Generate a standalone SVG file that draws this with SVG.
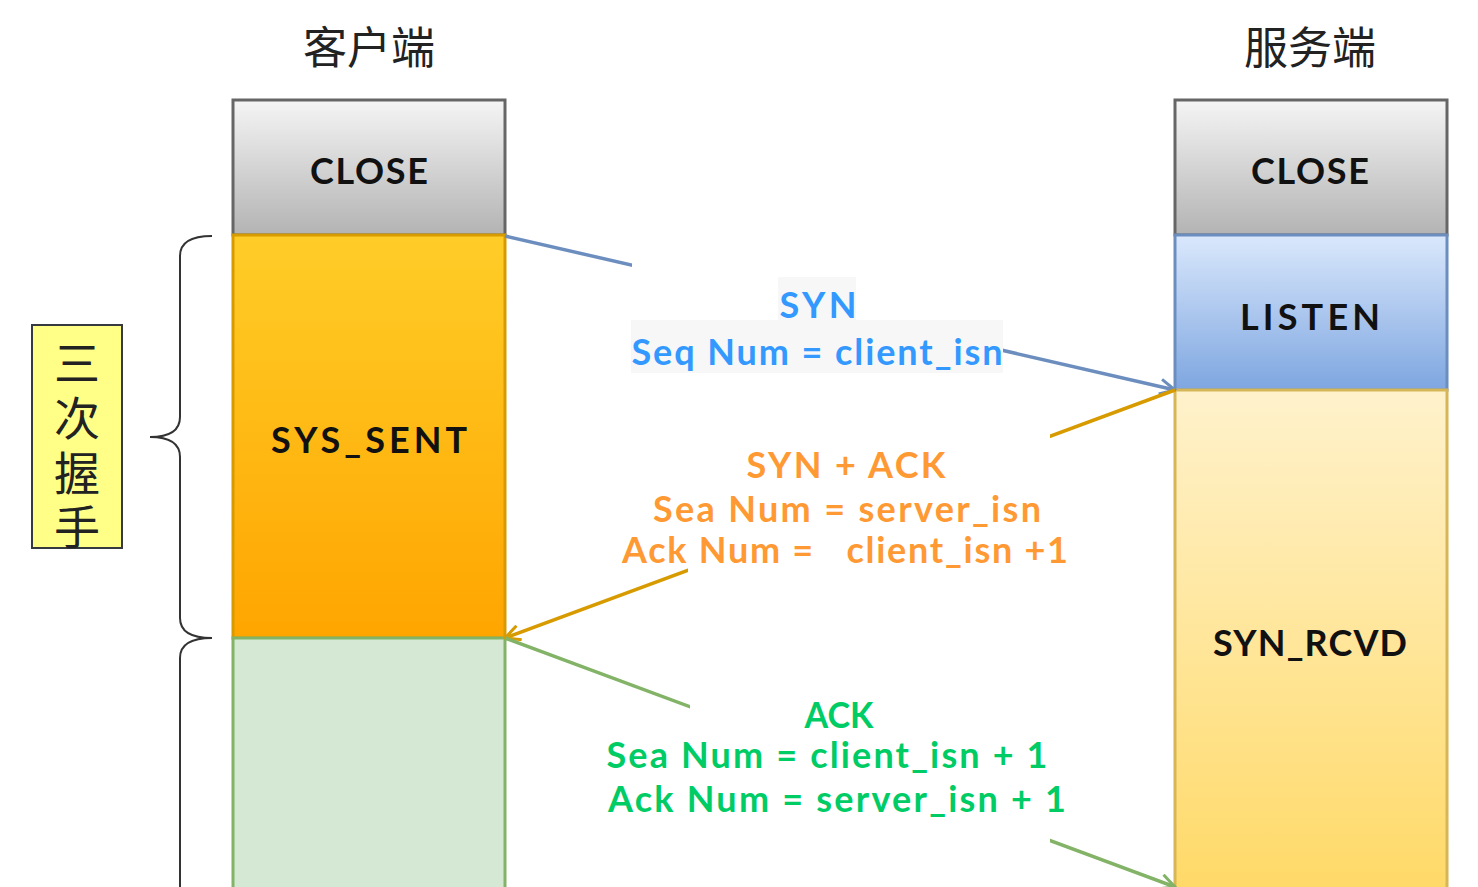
<svg xmlns="http://www.w3.org/2000/svg" width="1478" height="887" viewBox="0 0 1478 887">
<defs>
<linearGradient id="gGray" x1="0" y1="0" x2="0" y2="1"><stop offset="0" stop-color="#f5f5f5"/><stop offset="1" stop-color="#b3b3b3"/></linearGradient>
<linearGradient id="gOrange" x1="0" y1="0" x2="0" y2="1"><stop offset="0" stop-color="#ffcd28"/><stop offset="1" stop-color="#ffa500"/></linearGradient>
<linearGradient id="gBlue" x1="0" y1="0" x2="0" y2="1"><stop offset="0" stop-color="#dae8fc"/><stop offset="1" stop-color="#7ea6e0"/></linearGradient>
<linearGradient id="gYellow" x1="0" y1="0" x2="0" y2="1"><stop offset="0" stop-color="#fff2cc"/><stop offset="1" stop-color="#ffd966"/></linearGradient>
<marker id="aBlue" viewBox="0 0 12 12" refX="11" refY="6" markerWidth="18" markerHeight="18" markerUnits="userSpaceOnUse" orient="auto"><path d="M1,1 L11,6 L1,11" fill="none" stroke="#6c8ebf" stroke-width="2"/></marker>
<marker id="aOrange" viewBox="0 0 12 12" refX="11" refY="6" markerWidth="18" markerHeight="18" markerUnits="userSpaceOnUse" orient="auto"><path d="M1,1 L11,6 L1,11" fill="none" stroke="#d79b00" stroke-width="2"/></marker>
<marker id="aGreen" viewBox="0 0 12 12" refX="11" refY="6" markerWidth="18" markerHeight="18" markerUnits="userSpaceOnUse" orient="auto"><path d="M1,1 L11,6 L1,11" fill="none" stroke="#82b366" stroke-width="2"/></marker>
</defs>
<style>
.st{font-family:"Comic Sans MS","Lato","Liberation Sans",sans-serif;font-size:36px;font-weight:bold;fill:#111;text-anchor:middle}
.lb{font-family:"Comic Sans MS","Lato","Liberation Sans",sans-serif;font-size:36px;font-weight:bold;text-anchor:middle}
.cjk{font-family:"Liberation Sans","Noto Sans CJK SC",sans-serif;fill:#222;text-anchor:middle}
.box{stroke-width:3}
.conn{fill:none;stroke-width:3.5}
.mask{fill:#ffffff}
.tbg{fill:#f7f7f7}
</style>
<rect width="1478" height="887" fill="#ffffff"/>

<g id="title-client"><text class="cjk" x="369" y="64" font-size="44">客户端</text></g>
<g id="title-server"><text class="cjk" x="1310" y="64" font-size="44">服务端</text></g>

<g id="client-close"><rect class="box" x="233" y="100" width="272" height="135" fill="url(#gGray)" stroke="#666666"/><text class="st" x="369" y="184" textLength="118">CLOSE</text></g>
<g id="client-syn-sent"><rect class="box" x="233" y="235" width="272" height="403" fill="url(#gOrange)" stroke="#d79b00"/><text class="st" x="369" y="453" textLength="196">SYS_SENT</text></g>
<g id="client-established"><rect class="box" x="233" y="638" width="272" height="260" fill="#d5e8d4" stroke="#82b366"/></g>

<g id="server-close"><rect class="box" x="1175" y="100" width="272" height="135" fill="url(#gGray)" stroke="#666666"/><text class="st" x="1310" y="184" textLength="118">CLOSE</text></g>
<g id="server-listen"><rect class="box" x="1175" y="235" width="272" height="155" fill="url(#gBlue)" stroke="#6c8ebf"/><text class="st" x="1310" y="330" textLength="140">LISTEN</text></g>
<g id="server-syn-rcvd"><rect class="box" x="1175" y="390" width="272" height="510" fill="url(#gYellow)" stroke="#d6b656"/><text class="st" x="1310" y="656" textLength="194">SYN_RCVD</text></g>

<g id="handshake-label"><rect x="32" y="325" width="90" height="223" fill="#ffff88" stroke="#36393d" stroke-width="2"/>
<text class="cjk" x="77" y="380" font-size="46">三</text>
<text class="cjk" x="77" y="435" font-size="46">次</text>
<text class="cjk" x="77" y="490" font-size="46">握</text>
<text class="cjk" x="77" y="544" font-size="46">手</text></g>

<g id="braces" fill="none" stroke="#333333" stroke-width="2">
<path d="M212,236 Q180,236 180,256 L180,417 Q180,437 150,437 Q180,437 180,457 L180,618 Q180,638 212,638"/>
<path d="M212,638 Q180,638 180,658 L180,890"/>
</g>

<g id="connectors">
<path class="conn" d="M505,236 L1175,390" stroke="#6c8ebf" marker-end="url(#aBlue)"/>
<path class="conn" d="M1175,390 L505,638" stroke="#d79b00" marker-end="url(#aOrange)"/>
<path class="conn" d="M505,638 L1175,887" stroke="#82b366" marker-end="url(#aGreen)"/>
</g>

<g id="label-syn">
<rect class="mask" x="632" y="262" width="371" height="114"/>
<rect class="tbg" x="778" y="277" width="78" height="43"/>
<rect class="tbg" x="631" y="320" width="372" height="53"/>
<text class="lb" x="818" y="318" fill="#3399ff" textLength="77">SYN</text>
<text class="lb" x="817" y="365" fill="#3399ff" textLength="371">Seq Num = client_isn</text>
</g>
<g id="label-synack">
<rect class="mask" x="688" y="434" width="362" height="142"/>
<text class="lb" x="846" y="478" fill="#ff9933" textLength="199">SYN + ACK</text>
<text class="lb" x="847" y="522" fill="#ff9933" textLength="388">Sea Num = server_isn</text>
<text class="lb" x="845" y="563" fill="#ff9933" textLength="446" xml:space="preserve">Ack Num =   client_isn +1</text>
</g>
<g id="label-ack">
<rect class="mask" x="690" y="702" width="360" height="142"/>
<text class="lb" x="839" y="728" fill="#00cc66" textLength="69" lengthAdjust="spacingAndGlyphs">ACK</text>
<text class="lb" x="827" y="768" fill="#00cc66" textLength="441">Sea Num = client_isn + 1</text>
<text class="lb" x="837" y="812" fill="#00cc66" textLength="458">Ack Num = server_isn + 1</text>
</g>
</svg>
